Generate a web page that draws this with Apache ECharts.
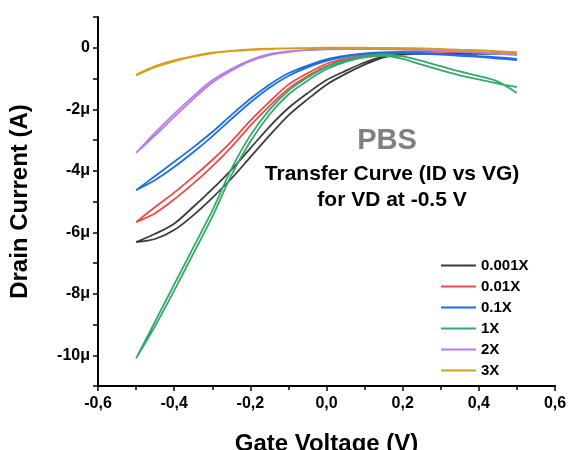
<!DOCTYPE html>
<html>
<head>
<meta charset="utf-8">
<script src="https://cdn.jsdelivr.net/npm/echarts@6/dist/echarts.min.js"></script>
<style>
  html, body { margin: 0; padding: 0; background: #fff; }
  #chart { width: 570px; height: 450px; }
</style>
</head>
<body>
<div id="chart"></div>
<script>
// gate voltage sweep points (V)
var vg = [-0.5, -0.45, -0.4, -0.35, -0.3, -0.25, -0.2, -0.15, -0.1, -0.05, 0,
          0.05, 0.1, 0.15, 0.2, 0.25, 0.3, 0.35, 0.4, 0.45, 0.5];

// drain current in uA, forward and return sweep for each concentration
var id0001Fwd = [-6.32, -6.05, -5.72, -5.18, -4.6, -3.97, -3.27, -2.57, -1.96, -1.48, -1.05, -0.75, -0.48, -0.28, -0.21, -0.2, -0.2, -0.2, -0.2, -0.2, -0.21];
var id0001Rev = [-6.32, -6.22, -5.93, -5.45, -4.88, -4.26, -3.56, -2.86, -2.2, -1.68, -1.2, -0.85, -0.55, -0.31, -0.22, -0.2, -0.2, -0.2, -0.2, -0.2, -0.21];
var id001Fwd = [-5.67, -5.18, -4.71, -4.2, -3.65, -3.05, -2.37, -1.76, -1.2, -0.83, -0.52, -0.35, -0.23, -0.16, -0.13, -0.12, -0.12, -0.13, -0.15, -0.17, -0.2];
var id001Rev = [-5.67, -5.38, -4.93, -4.42, -3.86, -3.23, -2.53, -1.9, -1.33, -0.93, -0.6, -0.4, -0.26, -0.18, -0.14, -0.13, -0.13, -0.14, -0.16, -0.18, -0.21];
var id01Fwd = [-4.63, -4.17, -3.71, -3.24, -2.74, -2.19, -1.66, -1.2, -0.83, -0.58, -0.38, -0.26, -0.18, -0.15, -0.15, -0.17, -0.2, -0.23, -0.27, -0.31, -0.36];
var id01Rev = [-4.63, -4.3, -3.88, -3.4, -2.88, -2.32, -1.78, -1.3, -0.92, -0.64, -0.43, -0.29, -0.2, -0.17, -0.17, -0.19, -0.22, -0.26, -0.3, -0.35, -0.4];
var id1Fwd = [-10.1, -8.9, -7.7, -6.5, -5.3, -3.95, -2.85, -2.02, -1.4, -0.97, -0.62, -0.4, -0.27, -0.22, -0.28, -0.43, -0.6, -0.77, -0.92, -1.1, -1.47];
var id1Rev = [-10.1, -9.05, -7.9, -6.7, -5.5, -4.15, -3.05, -2.18, -1.52, -1.07, -0.7, -0.46, -0.31, -0.26, -0.36, -0.55, -0.73, -0.9, -1.03, -1.17, -1.28];
var id2Fwd = [-3.42, -2.76, -2.15, -1.58, -1.06, -0.69, -0.4, -0.21, -0.12, -0.07, -0.04, -0.03, -0.03, -0.04, -0.05, -0.07, -0.09, -0.11, -0.14, -0.18, -0.21];
var id2Rev = [-3.42, -2.85, -2.25, -1.67, -1.14, -0.75, -0.44, -0.24, -0.14, -0.08, -0.05, -0.04, -0.04, -0.05, -0.06, -0.08, -0.1, -0.13, -0.16, -0.2, -0.24];
var id3Fwd = [-0.88, -0.6, -0.41, -0.27, -0.16, -0.1, -0.055, -0.03, -0.02, -0.01, 0, 0, 0, -0.005, -0.01, -0.02, -0.04, -0.06, -0.08, -0.11, -0.14];
var id3Rev = [-0.9, -0.63, -0.44, -0.29, -0.18, -0.11, -0.065, -0.04, -0.025, -0.015, -0.005, -0.005, -0.005, -0.01, -0.015, -0.03, -0.05, -0.07, -0.09, -0.12, -0.16];

var names = ['0.001X', '0.01X', '0.1X', '1X', '2X', '3X'];
var colors = ['#3d3d3d', '#f04848', '#1b6fe0', '#36a86c', '#b57de6', '#d4a015'];
var fwd = [id0001Fwd, id001Fwd, id01Fwd, id1Fwd, id2Fwd, id3Fwd];
var rev = [id0001Rev, id001Rev, id01Rev, id1Rev, id2Rev, id3Rev];

// forward sweep, a break, then the return sweep back to -0.5 V
function loop(f, r) {
  var pts = [];
  for (var i = 0; i < vg.length; i++) pts.push([vg[i], f[i]]);
  pts.push([vg[vg.length - 1], '-']);
  for (var j = vg.length - 1; j >= 0; j--) pts.push([vg[j], r[j]]);
  return pts;
}

var series = names.map(function (n, k) {
  return {
    name: n,
    type: 'line',
    data: loop(fwd[k], rev[k]),
    smooth: 0.3,
    showSymbol: false,
    symbol: 'none',
    lineStyle: { width: 1.8, color: colors[k] },
    itemStyle: { color: colors[k] },
    z: 2 + k
  };
});

var font = 'Liberation Sans, Arial, sans-serif';
var chart = echarts.init(document.getElementById('chart'));
chart.setOption({
  animation: false,
  textStyle: { fontFamily: font },
  grid: { left: 98, right: 15, top: 17, bottom: 64, outerBoundsMode: 'none' },
  title: [
    { text: 'PBS', left: 382, top: 121, textAlign: 'center',
      textStyle: { fontSize: 29, fontWeight: 'bold', color: '#808080', fontFamily: font } },
    { text: 'Transfer Curve (ID vs VG)\nfor VD at -0.5 V', left: 387, top: 156, textAlign: 'center',
      textStyle: { fontSize: 21, fontWeight: 'bold', color: '#000', lineHeight: 26, fontFamily: font } }
  ],
  legend: {
    orient: 'vertical',
    left: 436, top: 253,
    icon: 'rect',
    itemWidth: 35, itemHeight: 2,
    itemGap: 6,
    data: names,
    textStyle: { fontSize: 15, fontWeight: 'bold', color: '#000', fontFamily: font }
  },
  xAxis: {
    type: 'value',
    min: -0.6, max: 0.6, interval: 0.2,
    name: 'Gate Voltage (V)',
    nameLocation: 'middle',
    nameGap: 46,
    nameTextStyle: { fontSize: 24, fontWeight: 'bold', color: '#000', fontFamily: font },
    axisLine: { onZero: false, lineStyle: { color: '#000', width: 2 } },
    axisTick: { lineStyle: { color: '#000', width: 1.5 }, length: 5 },
    minorTick: { show: true, splitNumber: 2, length: 4, lineStyle: { color: '#000', width: 1.5 } },
    splitLine: { show: false },
    axisLabel: {
      fontSize: 16, fontWeight: 'bold', color: '#000', margin: 10,
      formatter: function (v) { return v.toFixed(1).replace('.', ','); }
    }
  },
  yAxis: {
    type: 'value',
    min: -11, max: 1, interval: 1,
    name: 'Drain Current (A)',
    nameLocation: 'middle',
    nameGap: 66,
    nameTextStyle: { fontSize: 24, fontWeight: 'bold', color: '#000', fontFamily: font },
    axisLine: { show: true, onZero: false, lineStyle: { color: '#000', width: 2 } },
    axisTick: { show: true, lineStyle: { color: '#000', width: 1.5 }, length: 5 },
    splitLine: { show: false },
    axisLabel: {
      fontSize: 16, fontWeight: 'bold', color: '#000', margin: 8,
      formatter: function (v) {
        var r = Math.round(v);
        if (r % 2 !== 0) return '';
        return r === 0 ? '0' : r + 'μ';
      }
    }
  },
  series: series
});
</script>
</body>
</html>
